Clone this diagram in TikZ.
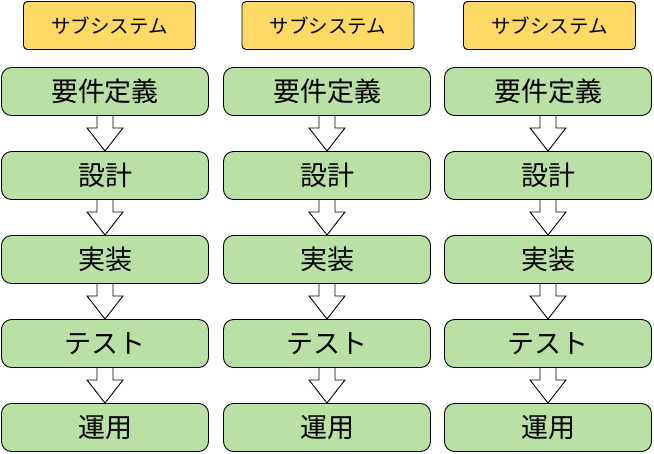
\documentclass[tikz,border=0pt]{standalone}
\usepackage{fontspec}
\setmainfont{Noto Sans CJK JP}
\usepackage{tikz}
\usetikzlibrary{calc}
\definecolor{stepgreen}{HTML}{B9E0A5}
\definecolor{subyellow}{HTML}{FFD966}
\tikzset{
  phase/.style={draw=black, line width=0.9pt, fill=stepgreen, rounded corners=10pt,
    minimum width=207pt, minimum height=48pt, inner sep=0pt,
    font=\fontsize{27}{27}\selectfont},
  subsys/.style={draw=black, line width=0.9pt, fill=subyellow, rounded corners=4pt,
    minimum width=172pt, minimum height=48pt, inner sep=0pt,
    font=\fontsize{19.5}{19.5}\selectfont},
  arrowbody/.style={draw=black, line width=0.9pt, line join=miter}
}
% hollow block arrow from the bottom of one phase to the top of the next
\newcommand{\flowarrow}[2]{%
  \draw[arrowbody] ($(#1.south)+(-8,0)$) -- ($(#1.south)+(-8,12)$)
    -- ($(#1.south)+(-18,12)$) -- (#2.north) -- ($(#1.south)+(18,12)$)
    -- ($(#1.south)+(8,12)$) -- ($(#1.south)+(8,0)$);}

\begin{document}
\begin{tikzpicture}[x=1pt, y=-1pt]
\useasboundingbox (0,0) rectangle (654,453);

% ---- left subsystem ----
\node[subsys] (sub1) at (109.5,25.5) {サブシステム};
\node[phase] (req1) at (105,91.5) {要件定義};
\node[phase] (des1) at (105,175.5) {設計};
\node[phase] (imp1) at (105,259.5) {実装};
\node[phase] (tst1) at (105,343.5) {テスト};
\node[phase] (ops1) at (105,427.5) {運用};
\flowarrow{req1}{des1}
\flowarrow{des1}{imp1}
\flowarrow{imp1}{tst1}
\flowarrow{tst1}{ops1}

% ---- middle subsystem ----
\node[subsys] (sub2) at (328,25.5) {サブシステム};
\node[phase] (req2) at (327,91.5) {要件定義};
\node[phase] (des2) at (327,175.5) {設計};
\node[phase] (imp2) at (327,259.5) {実装};
\node[phase] (tst2) at (327,343.5) {テスト};
\node[phase] (ops2) at (327,427.5) {運用};
\flowarrow{req2}{des2}
\flowarrow{des2}{imp2}
\flowarrow{imp2}{tst2}
\flowarrow{tst2}{ops2}

% ---- right subsystem ----
\node[subsys] (sub3) at (549.5,25.5) {サブシステム};
\node[phase] (req3) at (548,91.5) {要件定義};
\node[phase] (des3) at (548,175.5) {設計};
\node[phase] (imp3) at (548,259.5) {実装};
\node[phase] (tst3) at (548,343.5) {テスト};
\node[phase] (ops3) at (548,427.5) {運用};
\flowarrow{req3}{des3}
\flowarrow{des3}{imp3}
\flowarrow{imp3}{tst3}
\flowarrow{tst3}{ops3}

\end{tikzpicture}
\end{document}
